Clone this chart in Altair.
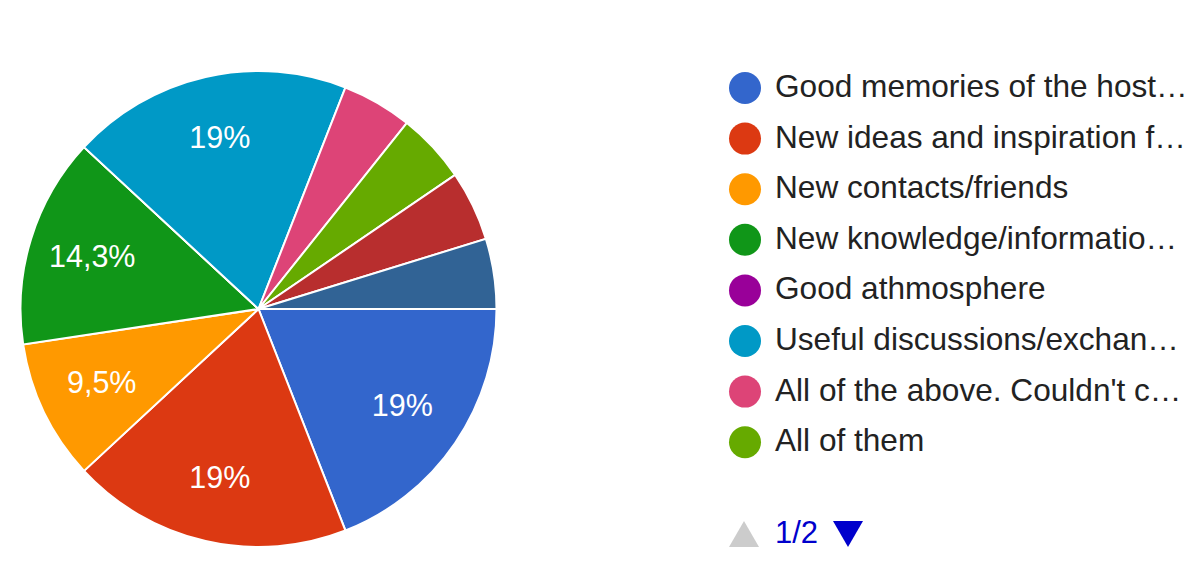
import altair as alt
import pandas as pd

categories = [
    "Good memories of the host city",
    "New ideas and inspiration for my work",
    "New contacts/friends",
    "New knowledge/information on the topic",
    "Good athmosphere",
    "Useful discussions/exchanges with colleagues",
    "All of the above. Couldn't choose only one",
    "All of them",
    "Networking",
    "Other",
]
counts = [4, 4, 2, 3, 0, 4, 1, 1, 1, 1]
pct_labels = ["19%", "19%", "9,5%", "14,3%", "", "19%", "", "", "", ""]
colors = ["#3366cc", "#dc3912", "#ff9900", "#109618", "#990099",
          "#0099c6", "#dd4477", "#66aa00", "#b82e2e", "#316395"]

df = pd.DataFrame({
    "answer": categories,
    "count": counts,
    "label": pct_labels,
    "idx": list(range(len(categories))),
})

FONT = "Liberation Sans"
CX, CY, R = 250.5, 301, 238

theta = alt.Theta("count:Q", stack=True,
                  scale=alt.Scale(range=[1.5707963, 7.8539816]))
color = alt.Color(
    "answer:N",
    scale=alt.Scale(domain=categories, range=colors),
    sort=categories,
    legend=alt.Legend(
        title=None,
        orient="none",
        legendX=721,
        legendY=64,
        values=categories[:8],
        symbolType="circle",
        symbolSize=1024,
        symbolStrokeWidth=0,
        labelFont=FONT,
        labelFontSize=31.6,
        labelColor="#222222",
        labelLimit=414,
        labelOffset=14,
        rowPadding=18.6,
        padding=0,
    ),
)

base = alt.Chart(df)

pie = base.mark_arc(outerRadius=R, stroke="white", strokeWidth=2).encode(
    theta=theta,
    color=color,
    order=alt.Order("idx:Q"),
    x=alt.value(CX),
    y=alt.value(CY),
)

text = base.mark_text(radius=174, font=FONT, fontSize=30.5, color="white").encode(
    theta=theta,
    text="label:N",
    order=alt.Order("idx:Q"),
    x=alt.value(CX),
    y=alt.value(CY),
)

pager_df = pd.DataFrame({"t": ["1/2"]})
pager_text = alt.Chart(pager_df).mark_text(
    font=FONT, fontSize=31, color="#0000cc", align="left", baseline="middle"
).encode(text="t:N", x=alt.value(767), y=alt.value(526))

up_tri = alt.Chart(pager_df).mark_point(
    shape="triangle-up", filled=True, color="#cccccc", size=900, opacity=1
).encode(x=alt.value(736), y=alt.value(526))

down_tri = alt.Chart(pager_df).mark_point(
    shape="triangle-down", filled=True, color="#0000cc", size=900, opacity=1
).encode(x=alt.value(840), y=alt.value(526))

chart = alt.layer(pie, text, pager_text, up_tri, down_tri).properties(
    width=1181,
    height=567,
    autosize=alt.AutoSizeParams(type="none"),
    padding=0,
).configure_view(stroke=None)

chart.save("out.html", embed_options={"renderer": "svg", "actions": False})
